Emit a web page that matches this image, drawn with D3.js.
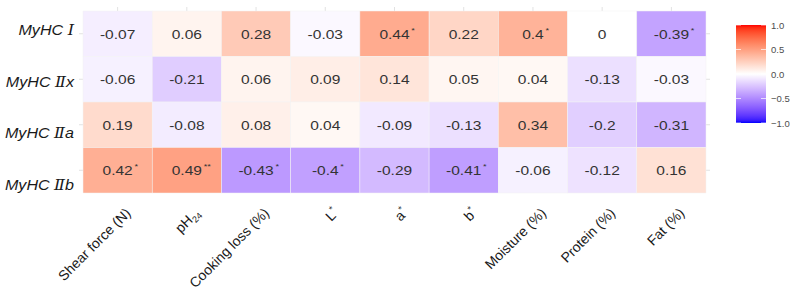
<!DOCTYPE html>
<html>
<head>
<meta charset="utf-8">
<script src="https://cdn.jsdelivr.net/npm/d3@7"></script>
<style>
  body { margin: 0; background: #fff; }
  text { font-family: "Liberation Sans", Arial, sans-serif; }
</style>
</head>
<body>
<div class="vis-heatmap"></div>
<script>
// row / column labels and values
const rowPrefix = ["MyHC ", "MyHC ", "MyHC ", "MyHC "];
const rowNumeral = ["\u2160", "\u2161", "\u2161", "\u2161"];
const rowSuffix = ["", "x", "a", "b"];
const colLabels = ["Shear force (N)", "pH", "Cooking loss (%)", "L", "a", "b", "Moisture (%)", "Protein (%)", "Fat (%)"];
const colSub = ["", "24", "", "", "", "", "", "", ""];
const colSup = ["", "", "", "*", "*", "*", "", "", ""];

const valuesI  = [-0.07, 0.06, 0.28, -0.03, 0.44, 0.22, 0.4, 0, -0.39];
const valuesIIx = [-0.06, -0.21, 0.06, 0.09, 0.14, 0.05, 0.04, -0.13, -0.03];
const valuesIIa = [0.19, -0.08, 0.08, 0.04, -0.09, -0.13, 0.34, -0.2, -0.31];
const valuesIIb = [0.42, 0.49, -0.43, -0.4, -0.29, -0.41, -0.06, -0.12, 0.16];

const starsI   = ["", "", "", "", "*", "", "*", "", "*"];
const starsIIx = ["", "", "", "", "", "", "", "", ""];
const starsIIa = ["", "", "", "", "", "", "", "", ""];
const starsIIb = ["*", "**", "*", "*", "", "*", "", "", ""];

const legendTicks = [1.0, 0.5, 0.0, -0.5, -1.0];

const values = [valuesI, valuesIIx, valuesIIa, valuesIIb];
const stars = [starsI, starsIIx, starsIIa, starsIIb];

const W = 795, H = 292;
const grid = {left: 83, right: 706, top: 11, bottom: 193};
const stretch = 1.15; // text in the picture is a bit wide

const svg = d3.select(".vis-heatmap").append("svg")
    .attr("width", W).attr("height", H);

const x = d3.scaleBand().domain(d3.range(colLabels.length)).range([grid.left, grid.right]);
const y = d3.scaleBand().domain(d3.range(rowPrefix.length)).range([grid.top, grid.bottom]);
// row labels drift a bit lower than the rows themselves
const yLab = d3.scalePoint().domain(d3.range(rowPrefix.length)).range([35, 190]);

// gradient2 style: blue - white - red, Lab interpolation
const color = d3.scaleLinear().domain([-1, 0, 1])
    .range(["#0000ff", "#ffffff", "#ff0000"])
    .interpolate(d3.interpolateLab);

let cells = [];
values.forEach((row, r) => row.forEach((v, c) => cells.push({r, c, v, s: stars[r][c]})));

// faint ticks round the grid
const tickCol = "#e2e2e2";
svg.append("g").selectAll("line").data(d3.range(colLabels.length)).enter().append("line")
    .attr("x1", d => x(d) + x.bandwidth() / 2).attr("x2", d => x(d) + x.bandwidth() / 2)
    .attr("y1", grid.top - 4).attr("y2", grid.top)
    .attr("stroke", tickCol);
svg.append("g").selectAll("line").data(d3.range(rowPrefix.length)).enter().append("line")
    .attr("x1", grid.left - 4).attr("x2", grid.left)
    .attr("y1", d => y(d) + y.bandwidth() / 2).attr("y2", d => y(d) + y.bandwidth() / 2)
    .attr("stroke", tickCol);
svg.append("g").selectAll("line").data(d3.range(rowPrefix.length)).enter().append("line")
    .attr("x1", grid.right).attr("x2", grid.right + 4)
    .attr("y1", d => y(d) + y.bandwidth() / 2).attr("y2", d => y(d) + y.bandwidth() / 2)
    .attr("stroke", tickCol);

// cells
svg.append("g").selectAll("rect").data(cells).enter().append("rect")
    .attr("x", d => x(d.c)).attr("y", d => y(d.r))
    .attr("width", x.bandwidth()).attr("height", y.bandwidth())
    .attr("fill", d => color(d.v))
    .attr("stroke", "#f3f3f3").attr("stroke-width", 0.5);

// cell values
let labels = svg.append("g").selectAll("g").data(cells).enter().append("g")
    .attr("transform", d => `translate(${x(d.c) + x.bandwidth() / 2},${y(d.r) + y.bandwidth() / 2 + 5}) scale(${stretch},1)`);
labels.append("text")
    .attr("text-anchor", "middle")
    .attr("font-size", 13.5)
    .attr("fill", "#333")
    .text(d => d.v === 0 ? "0" : String(d.v));
labels.each(function(d) {
    if (!d.s) return;
    let g = d3.select(this);
    let w = g.select("text").node().getComputedTextLength();
    g.append("text")
        .attr("x", w / 2 + 1.5).attr("y", -6)
        .attr("font-size", 8)
        .attr("fill", "#333")
        .text(d.s);
});

// row labels
let rowText = svg.append("g").selectAll("text").data(rowPrefix).enter().append("text")
    .attr("transform", (d, i) => `translate(74,${yLab(i)}) scale(${stretch},1)`)
    .attr("text-anchor", "end")
    .attr("font-size", 14)
    .attr("font-style", "italic")
    .attr("fill", "#1a1a1a");
rowText.append("tspan").text(d => d);
rowText.append("tspan")
    .style("font-family", "'DejaVu Serif', serif")
    .attr("font-size", 14)
    .text((d, i) => rowNumeral[i]);
rowText.append("tspan").text((d, i) => rowSuffix[i]);

// column labels, rotated
let colText = svg.append("g").selectAll("text").data(colLabels).enter().append("text")
    .attr("transform", (d, i) => `translate(${x(i) + x.bandwidth() / 2 + 14},${grid.bottom + 21}) rotate(-45)`)
    .attr("text-anchor", "end")
    .attr("font-size", 14)
    .attr("fill", "#1a1a1a");
colText.append("tspan").text(d => d);
colText.each(function(d, i) {
    if (colSub[i]) {
        d3.select(this).append("tspan").attr("font-size", 9).attr("dy", 3).text(colSub[i]);
    }
    if (colSup[i]) {
        d3.select(this).append("tspan").attr("font-size", 9).attr("dy", -6).text(colSup[i]);
    }
});

// colour bar legend
const leg = {x: 736, w: 30, top: 25, bottom: 123};
const ly = d3.scaleLinear().domain([-1, 1]).range([leg.bottom, leg.top]);
const defs = svg.append("defs");
const grad = defs.append("linearGradient").attr("id", "legend-grad")
    .attr("x1", 0).attr("y1", 1).attr("x2", 0).attr("y2", 0);
grad.selectAll("stop").data(d3.range(-1, 1.0001, 0.05)).enter().append("stop")
    .attr("offset", d => (d + 1) / 2)
    .attr("stop-color", d => color(d));
svg.append("rect")
    .attr("x", leg.x).attr("y", leg.top)
    .attr("width", leg.w).attr("height", leg.bottom - leg.top)
    .attr("fill", "url(#legend-grad)");
let lt = svg.append("g").selectAll("g").data(legendTicks).enter().append("g");
lt.append("line")
    .attr("x1", leg.x).attr("x2", leg.x + 5)
    .attr("y1", d => ly(d)).attr("y2", d => ly(d))
    .attr("stroke", "#fff").attr("stroke-opacity", 0.7);
lt.append("line")
    .attr("x1", leg.x + leg.w - 5).attr("x2", leg.x + leg.w)
    .attr("y1", d => ly(d)).attr("y2", d => ly(d))
    .attr("stroke", "#fff").attr("stroke-opacity", 0.7);
lt.append("text")
    .attr("x", leg.x + leg.w + 5)
    .attr("y", d => ly(d) + 3.5)
    .attr("font-size", 9.5)
    .attr("fill", "#4d4d4d")
    .text(d => d3.format(".1f")(d));
</script>
</body>
</html>
